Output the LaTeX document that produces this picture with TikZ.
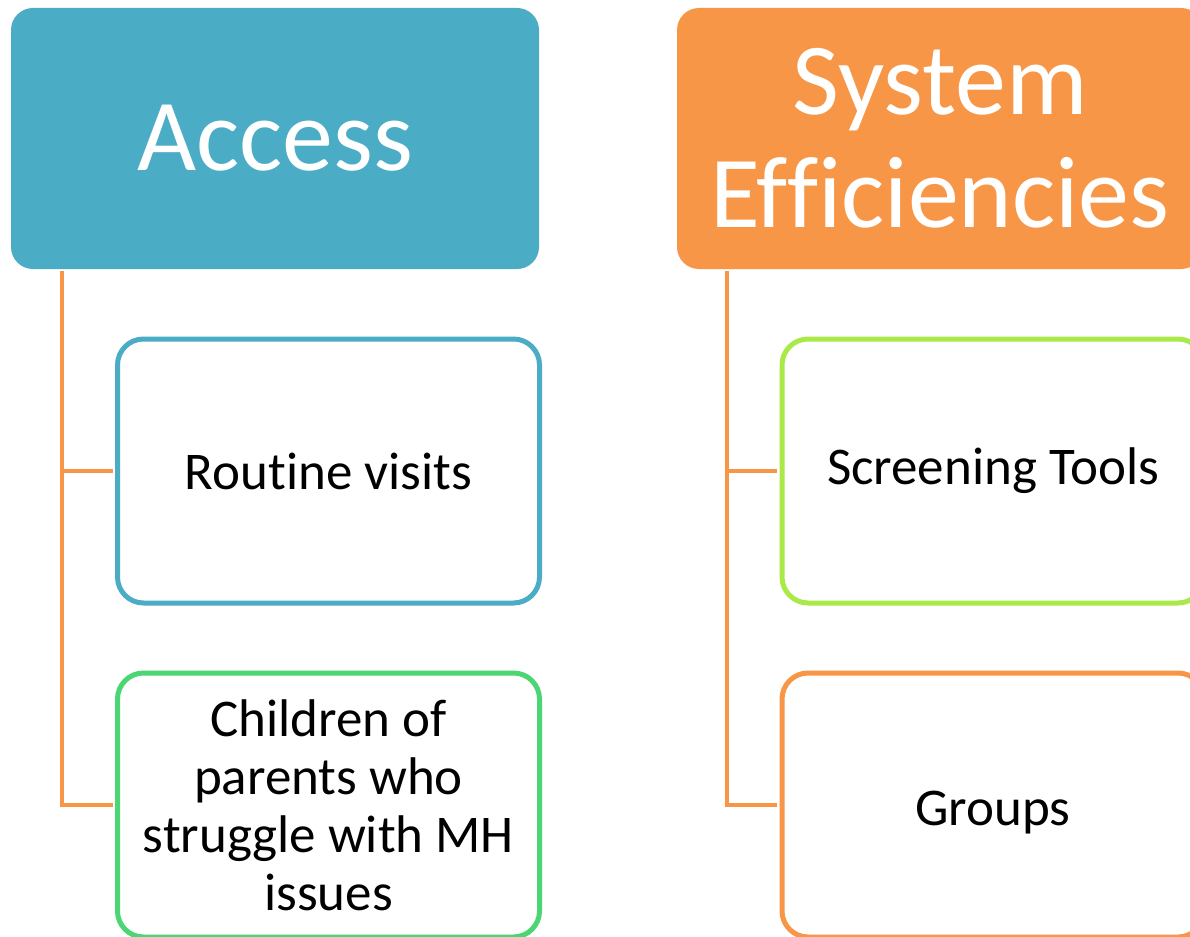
\documentclass[tikz,border=0pt]{standalone}
\usepackage{fontspec}
\setmainfont[Ligatures=NoCommon]{Carlito}
\definecolor{accblue}{HTML}{4BACC6}
\definecolor{accorange}{HTML}{F79646}
\definecolor{accgreen}{HTML}{4BD573}
\definecolor{acclime}{HTML}{AAEA48}
\begin{document}
\begin{tikzpicture}[x=1pt,y=-1pt,
  head/.style={rounded corners=22pt, minimum width=528pt, minimum height=261pt,
    text=white, align=center, inner sep=0pt, font=\fontsize{102}{113}\selectfont},
  sub/.style={draw, line width=5pt, fill=white, rounded corners=26pt,
    minimum width=422pt, minimum height=264pt, align=center, inner sep=0pt,
    font=\fontsize{53}{58}\selectfont},
  link/.style={draw=accorange, line width=4.5pt, shorten <=2pt, shorten >=2.5pt}]
\useasboundingbox (0,0) rectangle (1190,936);
\clip (0,0) rectangle (1190,936);
\fill[white] (0,0) rectangle (1190,936);
\node[head, fill=accblue] (access) at (275,138.5) {Access};
\node[head, fill=accorange, minimum width=526pt] (syseff) at (940,138.5) {System\\Efficiencies};
\node[sub, draw=accblue] (routine) at (328.5,471) {Routine visits};
\node[sub, draw=accgreen] (children) at (328.5,805) {Children of\\parents who\\struggle with MH\\issues};
\node[sub, draw=acclime] (screening) at (993,471) {Screening Tools};
\node[sub, draw=accorange, text depth=0pt, text height=40pt] (groups) at (993,805) {Groups};
\draw[link] ([xshift=51pt]access.south west) |- (routine.west);
\draw[link] ([xshift=51pt]access.south west) |- (children.west);
\draw[link] ([xshift=50pt]syseff.south west) |- (screening.west);
\draw[link] ([xshift=50pt]syseff.south west) |- (groups.west);
\end{tikzpicture}
\end{document}
